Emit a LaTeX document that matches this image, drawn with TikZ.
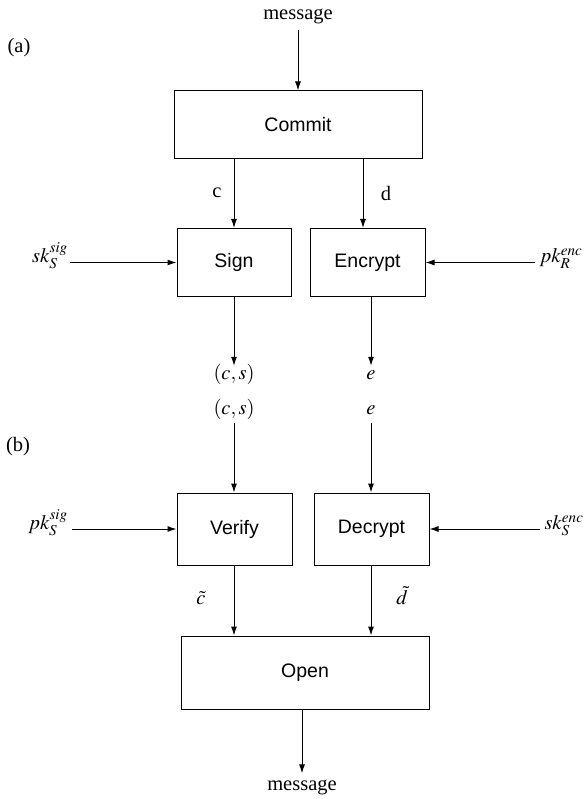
\documentclass[tikz,border=0pt]{standalone}
\usepackage{mathptmx}
\usepackage[no-math]{fontspec}
\setmainfont{Liberation Serif}
\newfontfamily\boxfont{Liberation Sans}
\usetikzlibrary{arrows.meta,calc}
\tikzset{
  arr/.style={draw=black,line width=1pt,-{Latex[length=9pt,width=6pt]}},
  blk/.style={draw=black,line width=1pt,rectangle,inner sep=0pt,font=\boxfont\fontsize{19.5}{23}\selectfont},
  lbl/.style={inner sep=6pt,font=\fontsize{20.5}{24}\selectfont},
  sym/.style={inner sep=6pt,font=\fontsize{20.5}{24}\selectfont,text height=0.75em,text depth=0.25em},
}
\begin{document}
\begin{tikzpicture}[x=1pt,y=-1pt]
\useasboundingbox (0,0) rectangle (586,799);
% (a)
\node[lbl] (msg1) at (298,16) {message};
\node[lbl,inner sep=0pt] (la) at (19,48) {(a)};
\node[blk,minimum width=248pt,minimum height=68pt] (commit) at (298,125) {Commit};
\node[blk,minimum width=114pt,minimum height=68pt] (sign) at (234,262.5) {Sign};
\node[blk,minimum width=115pt,minimum height=68pt] (encrypt) at (367.5,262.5) {Encrypt};
\node[lbl,inner sep=0pt] (lc) at (217,193) {c};
\node[lbl,inner sep=0pt] (ld) at (386,193) {d};
\node[sym,inner sep=2pt] (sksig) at (50,260) {$sk_S^{sig}$};
\node[sym,inner sep=4pt] (pkenc) at (561,260) {$pk_R^{enc}$};
\node[sym] (cs1) at (234,377) {$(c,s)$};
\node[sym] (e1) at (371,377) {$e$};
\coordinate (dtop) at ($(commit.south)+(65,0)$);
\coordinate (dbot) at ($(encrypt.north)+(-4.5,0)$);
\draw[arr] (msg1) -- (commit);
\draw[arr] (commit.south -| sign.north) -- (sign.north);
\draw[arr] (dtop) -- (dbot);
\draw[arr] (sksig.east |- sign.west) -- (sign.west);
\draw[arr] (pkenc.west |- encrypt.east) -- (encrypt.east);
\draw[arr] (sign.south) -- (cs1.north);
\draw[arr] (encrypt.south -| e1.north) -- (e1.north);
% (b)
\node[sym] (cs2) at (234,412) {$(c,s)$};
\node[sym] (e2) at (371,412) {$e$};
\node[lbl,inner sep=0pt] (lb) at (18,447) {(b)};
\node[blk,minimum width=115pt,minimum height=72pt] (verify) at (234.5,529) {Verify};
\node[blk,minimum width=115pt,minimum height=72pt] (decrypt) at (371.5,529) {Decrypt};
\node[sym,inner sep=4pt] (pksig) at (48,527) {$pk_S^{sig}$};
\node[sym,inner sep=4pt] (skenc) at (564,527) {$sk_S^{enc}$};
\node[blk,minimum width=248pt,minimum height=73pt] (open) at (305,672.5) {Open};
\node[sym,inner sep=0pt] (lct) at (201,602) {$\tilde c$};
\node[sym,inner sep=0pt] (ldt) at (402,602) {$\tilde d$};
\node[lbl] (msg2) at (302,787) {message};
\draw[arr] (cs2.south) -- (verify.north -| cs2.south);
\draw[arr] (e2.south) -- (decrypt.north -| e2.south);
\draw[arr] (pksig.east |- verify.west) -- (verify.west);
\draw[arr] (skenc.west |- decrypt.east) -- (decrypt.east);
\draw[arr] (verify.south -| cs2.south) -- (open.north -| cs2.south);
\draw[arr] (decrypt.south -| e2.south) -- (open.north -| e2.south);
\draw[arr] (open.south -| msg2.north) -- (msg2.north);
\end{tikzpicture}
\end{document}
